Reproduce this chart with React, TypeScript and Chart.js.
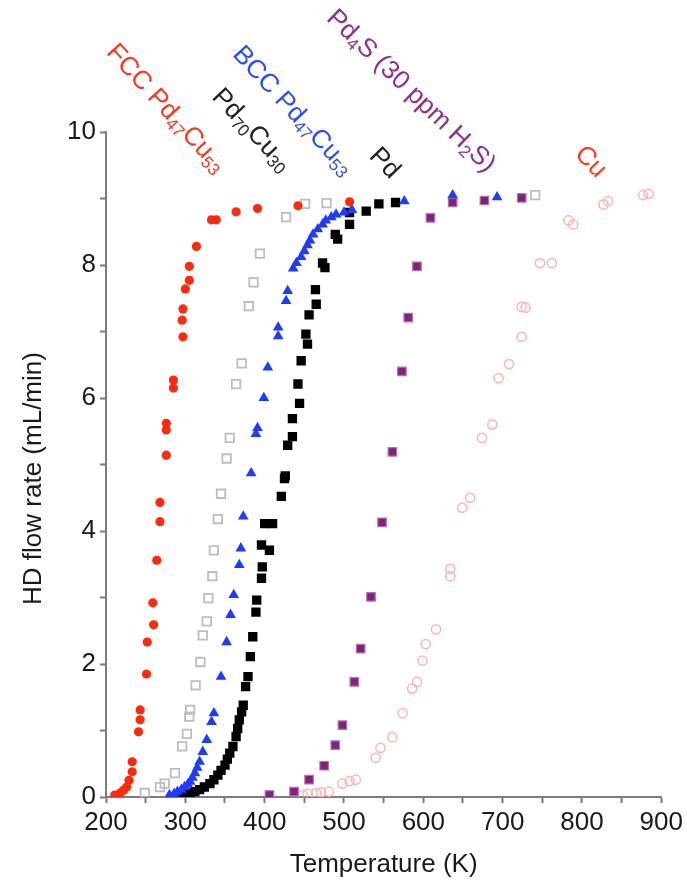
import { useEffect, useRef } from "react";
import { Chart, registerables } from "chart.js";

Chart.register(...registerables);

// HD flow rate (mL/min) versus temperature (K) for each catalyst membrane
const fccT = [211, 218, 222, 226, 229, 233, 233, 241, 243, 243, 251, 252, 260, 259, 264, 268, 268, 276, 276, 276, 285, 285, 297, 296, 297, 300, 305, 305, 314, 333, 339, 364, 391, 442, 507];
const fccHD = [0.03, 0.06, 0.1, 0.15, 0.25, 0.38, 0.53, 0.98, 1.16, 1.31, 1.85, 2.33, 2.59, 2.92, 3.56, 4.14, 4.43, 5.14, 5.52, 5.62, 6.15, 6.27, 6.92, 7.17, 7.34, 7.64, 7.77, 7.98, 8.28, 8.68, 8.68, 8.8, 8.85, 8.89, 8.95];

const pd70T = [249, 268, 274, 287, 296, 302, 305, 306, 313, 319, 322, 327, 329, 334, 336, 341, 345, 352, 356, 364, 371, 380, 386, 394, 427, 451, 478, 741];
const pd70HD = [0.06, 0.15, 0.2, 0.36, 0.76, 0.95, 1.21, 1.31, 1.68, 2.03, 2.43, 2.64, 2.99, 3.32, 3.71, 4.18, 4.56, 5.09, 5.4, 6.21, 6.52, 7.38, 7.74, 8.17, 8.72, 8.92, 8.93, 9.05];

const bccT = [280, 286, 290, 295, 299, 303, 306, 309, 312, 315, 318, 322, 327, 333, 336, 345, 352, 357, 361, 368, 370, 373, 383, 389, 391, 399, 404, 417, 417, 427, 429, 436, 440, 446, 450, 454, 457, 461, 467, 473, 477, 484, 490, 500, 510, 576, 637, 693];
const bccHD = [0.03, 0.05, 0.08, 0.11, 0.15, 0.19, 0.23, 0.29, 0.36, 0.44, 0.53, 0.68, 0.86, 1.13, 1.26, 1.81, 2.33, 2.74, 3.04, 3.49, 3.74, 4.22, 4.87, 5.46, 5.55, 6.0, 6.46, 6.93, 7.06, 7.46, 7.61, 7.95, 8.03, 8.12, 8.21, 8.3, 8.37, 8.46, 8.54, 8.61, 8.67, 8.72, 8.76, 8.79, 8.83, 8.96, 9.05, 9.02];

const pdT = [293, 299, 306, 312, 318, 324, 331, 336, 341, 345, 350, 353, 356, 360, 364, 366, 368, 371, 373, 376, 379, 382, 385, 389, 390, 396, 397, 396, 400, 406, 410, 421, 425, 426, 429, 435, 435, 444, 442, 446, 454, 452, 456, 465, 464, 473, 476, 489, 492, 507, 507, 528, 544, 565];
const pdHD = [0.03, 0.05, 0.06, 0.08, 0.11, 0.15, 0.2, 0.26, 0.33, 0.4, 0.48, 0.57, 0.66, 0.76, 0.91, 1.03, 1.16, 1.28, 1.38, 1.66, 1.81, 2.11, 2.41, 2.78, 2.96, 3.29, 3.46, 3.79, 4.11, 3.71, 4.11, 4.52, 4.79, 4.83, 5.29, 5.42, 5.69, 5.92, 6.21, 6.56, 6.81, 6.96, 7.25, 7.41, 7.63, 8.03, 7.96, 8.46, 8.39, 8.61, 8.79, 8.81, 8.92, 8.94];

const pd4sT = [406, 437, 456, 475, 489, 498, 513, 521, 534, 548, 561, 573, 581, 592, 609, 637, 677, 724];
const pd4sHD = [0.03, 0.08, 0.26, 0.47, 0.78, 1.08, 1.73, 2.23, 3.01, 4.13, 5.19, 6.4, 7.21, 7.98, 8.71, 8.94, 8.97, 9.01];

const cuT = [448, 454, 465, 471, 481, 498, 507, 515, 540, 546, 561, 574, 586, 592, 599, 603, 616, 634, 634, 649, 659, 674, 687, 695, 708, 724, 724, 729, 747, 762, 783, 789, 827, 833, 877, 884];
const cuHD = [0.03, 0.05, 0.06, 0.07, 0.08, 0.2, 0.24, 0.26, 0.59, 0.74, 0.9, 1.26, 1.63, 1.73, 2.05, 2.3, 2.52, 3.32, 3.43, 4.35, 4.5, 5.4, 5.6, 6.3, 6.51, 6.92, 7.37, 7.36, 8.03, 8.03, 8.67, 8.61, 8.91, 8.96, 9.05, 9.07];

// Axis ranges
const xMin = 200;
const xMax = 900;
const yMin = 0;
const yMax = 10;

// Curve captions: text pieces (subscript flag), anchor in data units, slant in degrees
type Piece = [string, boolean];
const captions: { pieces: Piece[]; t: number; hd: number; angle: number; color: string }[] = [
  { pieces: [["FCC Pd", false], ["47", true], ["Cu", false], ["53", true]], t: 206, hd: 11.26, angle: 47.5, color: "#ff3320" },
  { pieces: [["Pd", false], ["70", true], ["Cu", false], ["30", true]], t: 339, hd: 10.59, angle: 46.6, color: "#222222" },
  { pieces: [["BCC Pd", false], ["47", true], ["Cu", false], ["53", true]], t: 365, hd: 11.23, angle: 47.2, color: "#2a4cff" },
  { pieces: [["Pd", false]], t: 537, hd: 9.7, angle: 46, color: "#222222" },
  { pieces: [["Pd", false], ["4", true], ["S (30 ppm H", false], ["2", true], ["S)", false]], t: 483, hd: 11.77, angle: 43.8, color: "#8e2f8e" },
  { pieces: [["Cu", false]], t: 796, hd: 9.73, angle: 46, color: "#ff3a20" },
];

const FONT = "'Liberation Sans', Arial, sans-serif";

const pts = (xs: number[], ys: number[]) => xs.map((x, i) => ({ x, y: ys[i] }));

const captionPlugin = {
  id: "captions",
  afterDraw(chart: any) {
    const { ctx } = chart;
    const xs = chart.scales.x;
    const ys = chart.scales.y;
    ctx.save();
    // y-axis title
    ctx.save();
    ctx.translate(34, (ys.top + ys.bottom) / 2 + 14);
    ctx.rotate(-Math.PI / 2);
    ctx.font = `26px ${FONT}`;
    ctx.fillStyle = "#1a1a1a";
    ctx.textAlign = "center";
    ctx.textBaseline = "middle";
    ctx.fillText("HD flow rate (mL/min)", 0, 0);
    ctx.restore();

    for (const c of captions) {
      const px = xs.getPixelForValue(c.t);
      const py = ys.getPixelForValue(c.hd);
      ctx.save();
      ctx.translate(px, py);
      ctx.rotate((c.angle * Math.PI) / 180);
      ctx.fillStyle = c.color;
      ctx.textAlign = "left";
      ctx.textBaseline = "middle";
      let cx = 0;
      for (const [txt, sub] of c.pieces) {
        ctx.font = sub ? `17px ${FONT}` : `26px ${FONT}`;
        ctx.fillText(txt, cx, sub ? 7 : 0);
        cx += ctx.measureText(txt).width;
      }
      ctx.restore();
    }
    ctx.restore();
  },
};

export default function App() {
  const ref = useRef<HTMLCanvasElement | null>(null);

  useEffect(() => {
    if (!ref.current) return;
    const tickFont = { family: FONT, size: 26 };
    const chart = new Chart(ref.current, {
      type: "scatter",
      data: {
        datasets: [
          { label: "FCC Pd47Cu53", data: pts(fccT, fccHD), pointStyle: "circle", pointRadius: 4.6, backgroundColor: "#ff2a0a", borderColor: "#ff2a0a", borderWidth: 0 },
          { label: "BCC Pd47Cu53", data: pts(bccT, bccHD), pointStyle: "triangle", pointRadius: 6.2, backgroundColor: "#1d3cff", borderColor: "#1d3cff", borderWidth: 0 },
          { label: "Pd", data: pts(pdT, pdHD), pointStyle: "rect", pointRadius: 6.6, backgroundColor: "#000000", borderColor: "#000000", borderWidth: 0 },
          { label: "Pd70Cu30", data: pts(pd70T, pd70HD), pointStyle: "rect", pointRadius: 6, backgroundColor: "rgba(255,255,255,0)", borderColor: "#bdbdbd", borderWidth: 1.8 },
          { label: "Pd4S (30 ppm H2S)", data: pts(pd4sT, pd4sHD), pointStyle: "rect", pointRadius: 6, backgroundColor: "#84207f", borderColor: "#b273ad", borderWidth: 1.2 },
          { label: "Cu", data: pts(cuT, cuHD), pointStyle: "circle", pointRadius: 4.6, backgroundColor: "rgba(255,255,255,0)", borderColor: "#ffb3b3", borderWidth: 1.5 },
        ],
      },
      options: {
        animation: false,
        responsive: true,
        maintainAspectRatio: false,
        events: [],
        layout: { padding: { top: 132, right: 24, left: 0, bottom: 0 } },
        plugins: { legend: { display: false }, tooltip: { enabled: false } },
        scales: {
          x: {
            type: "linear",
            min: xMin,
            max: xMax,
            afterFit: (s: any) => {
              s.height = 83;
            },
            grid: { drawOnChartArea: false, drawTicks: true, tickLength: 6, tickWidth: 2, tickColor: "#7a7a7a" },
            border: { display: true, color: "#7d7d7d", width: 2 },
            ticks: {
              stepSize: 50,
              padding: 4,
              maxRotation: 0,
              autoSkip: false,
              font: tickFont,
              color: "#1a1a1a",
              callback: (v: any) => (Number(v) % 100 === 0 ? String(v) : ""),
            },
            title: { display: true, text: "Temperature (K)", font: { family: FONT, size: 26 }, color: "#1a1a1a", padding: { top: 0, bottom: 0 } },
          },
          y: {
            type: "linear",
            min: yMin,
            max: yMax,
            afterFit: (s: any) => {
              s.width = 106;
            },
            grid: { drawOnChartArea: false, drawTicks: true, tickLength: 6, tickWidth: 2, tickColor: "#7a7a7a" },
            border: { display: true, color: "#7d7d7d", width: 2 },
            ticks: {
              stepSize: 1,
              padding: 4,
              autoSkip: false,
              font: tickFont,
              color: "#1a1a1a",
              callback: (v: any) => (Number(v) % 2 === 0 ? String(v) : ""),
            },
          },
        },
      },
      plugins: [captionPlugin],
    });
    return () => chart.destroy();
  }, []);

  return (
    <div style={{ position: "absolute", left: 0, top: 0, width: 687, height: 880, background: "#ffffff" }}>
      <canvas ref={ref} />
    </div>
  );
}
